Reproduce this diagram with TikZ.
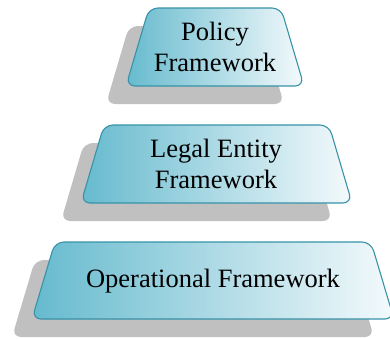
\documentclass[tikz,border=0pt]{standalone}
\usepackage{fontspec}
\setmainfont{Liberation Serif}
\definecolor{tealdark}{RGB}{102,186,206}
\definecolor{teallight}{RGB}{244,250,252}
\definecolor{tealline}{RGB}{56,146,168}
\definecolor{shadowgray}{RGB}{192,192,192}
\tikzset{
  layer/.style={draw=tealline,line width=1.1pt,left color=tealdark,right color=teallight,rounded corners=9pt},
  layershadow/.style={fill=shadowgray,rounded corners=9pt},
  layertext/.style={align=center,font=\fontsize{26.5}{31}\selectfont,text=black}
}

\begin{document}
\begin{tikzpicture}[x=1pt,y=-1pt]
\useasboundingbox (0,0) rectangle (390,338);
\fill[layershadow] (106,104) -- (129,26) -- (261,26) -- (284,104) -- cycle;
\path[layer] (126,86) -- (149,8) -- (281,8) -- (304,86) -- cycle;
\node[layertext] (policy) at (215,47) {Policy\\Framework};

\fill[layershadow] (61,221) -- (84,143) -- (309,143) -- (332,221) -- cycle;
\path[layer] (81,203) -- (104,125) -- (329,125) -- (352,203) -- cycle;
\node[layertext] (legal) at (216,164) {Legal Entity\\Framework};

\fill[layershadow] (12,337) -- (35,260) -- (351,260) -- (374,337) -- cycle;
\path[layer] (32,319) -- (55,242) -- (371,242) -- (394,319) -- cycle;
\node[layertext] (operational) at (213,281) {Operational Framework};
\end{tikzpicture}
\end{document}
